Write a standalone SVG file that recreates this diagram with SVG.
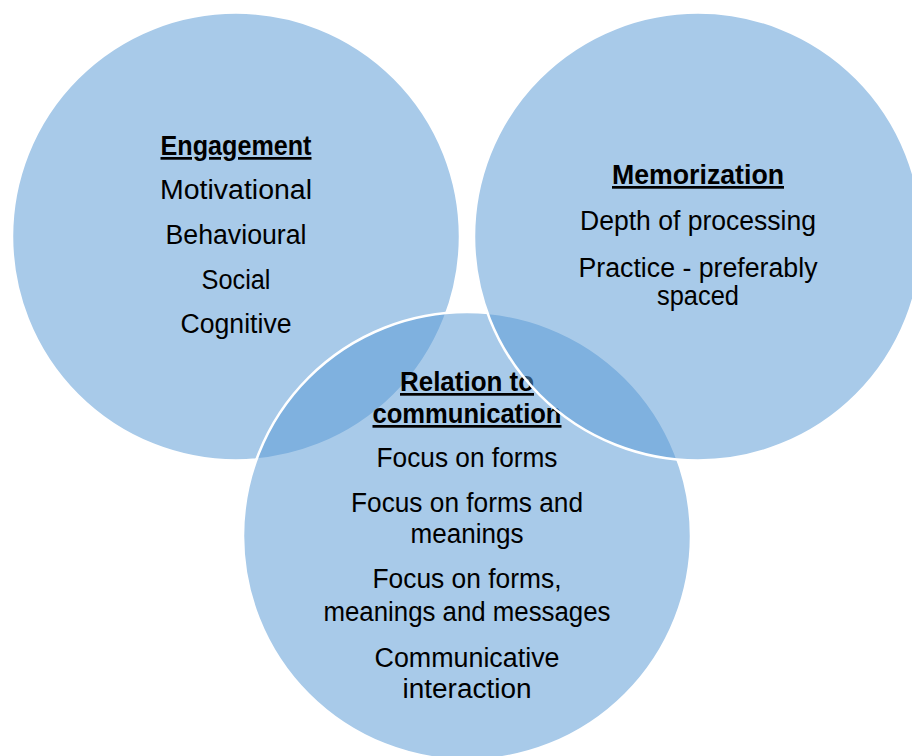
<svg xmlns="http://www.w3.org/2000/svg" width="912" height="756" viewBox="0 0 912 756">
<style>
.c{fill:#5B9BD5;fill-opacity:0.53;stroke:#FFFFFF;stroke-width:2.5}
text{font-family:"Liberation Sans",Arial,sans-serif;font-size:27px;fill:#000;text-anchor:middle}
.h{font-weight:bold;text-decoration:underline}
</style>
<rect width="912" height="756" fill="#FFFFFF"/>
<g id="connectors"/>
<g id="engagement">
<circle class="c" cx="236" cy="236.5" r="224"/>
<text class="h" x="236" y="155" textLength="151" lengthAdjust="spacingAndGlyphs">Engagement</text>
<text x="236" y="199" textLength="152" lengthAdjust="spacingAndGlyphs">Motivational</text>
<text x="236" y="244" textLength="141" lengthAdjust="spacingAndGlyphs">Behavioural</text>
<text x="236" y="289" textLength="69" lengthAdjust="spacingAndGlyphs">Social</text>
<text x="236" y="333" textLength="111" lengthAdjust="spacingAndGlyphs">Cognitive</text>
</g>
<g id="communication">
<circle class="c" cx="467" cy="536" r="224"/>
<text class="h" x="467" y="391" textLength="134" lengthAdjust="spacingAndGlyphs">Relation to</text>
<text class="h" x="467" y="423" textLength="189" lengthAdjust="spacingAndGlyphs">communication</text>
<text x="467" y="467" textLength="181" lengthAdjust="spacingAndGlyphs">Focus on forms</text>
<text x="467" y="512" textLength="232" lengthAdjust="spacingAndGlyphs">Focus on forms and</text>
<text x="467" y="543" textLength="113" lengthAdjust="spacingAndGlyphs">meanings</text>
<text x="467" y="588" textLength="189" lengthAdjust="spacingAndGlyphs">Focus on forms,</text>
<text x="467" y="621" textLength="287" lengthAdjust="spacingAndGlyphs">meanings and messages</text>
<text x="467" y="667" textLength="185" lengthAdjust="spacingAndGlyphs">Communicative</text>
<text x="467" y="698" textLength="129" lengthAdjust="spacingAndGlyphs">interaction</text>
</g>
<g id="memorization">
<circle class="c" cx="698" cy="236.5" r="224"/>
<text class="h" x="698" y="184" textLength="172" lengthAdjust="spacingAndGlyphs">Memorization</text>
<text x="698" y="230" textLength="236" lengthAdjust="spacingAndGlyphs">Depth of processing</text>
<text x="698" y="277" textLength="239" lengthAdjust="spacingAndGlyphs">Practice - preferably</text>
<text x="698" y="305" textLength="82" lengthAdjust="spacingAndGlyphs">spaced</text>
</g>
</svg>
